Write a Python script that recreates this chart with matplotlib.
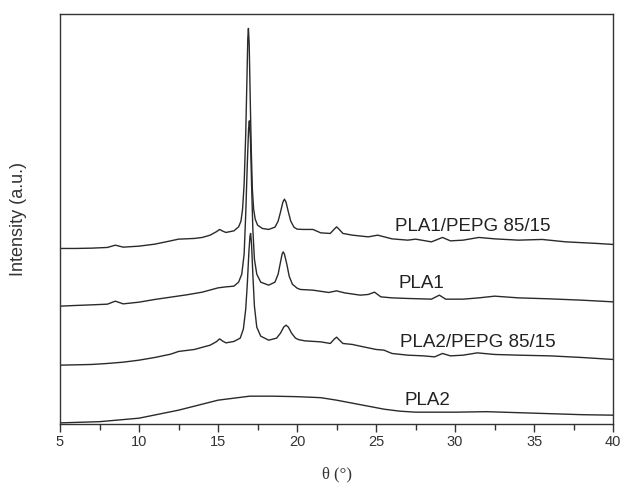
import numpy as np
import matplotlib
matplotlib.use("Agg")
import matplotlib.pyplot as plt
from matplotlib.ticker import MultipleLocator

# diffraction angle (deg) and intensity (a.u.)
theta_pla1_pepg = [5, 6, 7, 8, 8.5, 9, 10, 11, 12, 12.5, 13.5, 14, 14.5, 14.9, 15.1,
                   15.3, 15.5, 16.0, 16.3, 16.45, 16.55, 16.65, 16.75, 16.82, 16.88,
                   16.92, 16.97, 17.03, 17.1, 17.17, 17.25, 17.35, 17.5, 17.8, 18.2,
                   18.6, 18.8, 18.95, 19.1, 19.2, 19.3, 19.45, 19.6, 19.8, 20.0, 20.4,
                   21, 21.5, 22.1, 22.35, 22.5, 22.65, 22.9, 23.5, 24.5, 25.1, 26, 27,
                   27.5, 28.5, 29.2, 29.7, 30.5, 31.5, 32.5, 34, 35.5, 37, 39, 40]
int_pla1_pepg = [175.7, 175.7, 176, 176.7, 179, 177, 178, 180, 183.3, 185, 185.7,
                 186.7, 189, 192.5, 194.7, 193, 191.7, 193.3, 197.3, 203, 215, 240,
                 290, 340, 385, 395.7, 380, 330, 275, 235, 215, 205, 199, 195.7,
                 194.7, 197, 203, 212, 222, 225, 222, 212, 203, 197, 195, 194.7,
                 194.7, 191.3, 190.7, 195, 197.3, 195, 190.7, 189, 187.3, 189, 185.3,
                 184, 185, 182.3, 186.7, 183.3, 184, 186.7, 185.3, 184, 184.7, 182.3,
                 180.7, 179.7]

theta_pla1 = [5, 6, 7, 8, 8.5, 9, 10, 11, 12, 13, 14, 15, 15.5, 16.0, 16.3, 16.5,
              16.65, 16.75, 16.85, 16.93, 16.98, 17.05, 17.12, 17.2, 17.3, 17.45,
              17.7, 18.2, 18.6, 18.8, 18.95, 19.05, 19.12, 19.2, 19.35, 19.5, 19.7,
              20.0, 20.2, 21, 22, 22.5, 23, 24, 24.5, 24.9, 25.3, 26, 27, 28.5,
              29.0, 29.4, 30.5, 31.5, 32.5, 34, 36, 38, 40]
int_pla1 = [118, 118.7, 119.3, 120, 123, 120.3, 122, 124.7, 127, 129.3, 132, 136.3,
            137.3, 138, 142, 150, 170, 210, 260, 295, 303.3, 285, 240, 195, 165,
            150, 142, 139, 142, 150, 162, 170, 172.3, 170, 160, 148, 140, 136,
            134.7, 134, 131.7, 133.3, 131.3, 129, 129.7, 132, 127.3, 126.3, 125.7,
            125, 129, 125, 125, 126.3, 128, 126.3, 125.3, 124, 122.3]

theta_pla2_pepg = [5, 7, 8, 9, 10, 11, 12, 12.5, 13.5, 14.5, 14.9, 15.1, 15.3, 15.5,
                   16.0, 16.4, 16.6, 16.75, 16.85, 16.95, 17.02, 17.06, 17.12, 17.2,
                   17.3, 17.45, 17.7, 18.2, 18.7, 18.95, 19.15, 19.3, 19.45, 19.65,
                   19.9, 20.1, 20.5, 21.5, 22.1, 22.35, 22.5, 22.65, 22.9, 23.5, 24.2,
                   25, 25.5, 26, 27, 28, 28.7, 29.2, 29.7, 30.5, 31.4, 32.5, 34, 36,
                   38, 40]
int_pla2_pepg = [59, 59.7, 60.7, 62, 64, 66.7, 70, 72.7, 74.7, 79, 82.5, 85.3, 83,
                 81.3, 82.7, 86, 95, 115, 140, 172, 188, 190.7, 180, 150, 118, 97,
                 88, 84, 86, 91, 97, 99, 97, 91, 86, 84.5, 83.3, 82.3, 80.7, 85,
                 87, 84.5, 80.7, 79.7, 77.3, 74.7, 74, 70.7, 69, 68.3, 67.3, 70.7,
                 68.3, 69, 71.3, 69.7, 69, 68.3, 66.7, 64.7]

theta_pla2 = [5, 7.5, 10, 12.5, 14, 15, 16, 17, 18.5, 20, 21.5, 22.5, 23.5, 24.5,
              25.5, 26.5, 27.5, 30, 32, 34, 36, 38, 40]
int_pla2 = [1.3, 2.5, 6, 14, 20, 24, 26, 28, 28, 27.5, 26.5, 24, 21, 18, 15, 13, 12,
            12, 12.5, 11.5, 10.5, 9.5, 9]

names = ["PLA1/PEPG 85/15", "PLA1", "PLA2/PEPG 85/15", "PLA2"]

fig = plt.figure(figsize=(6.23, 4.87), dpi=100)
ax = fig.add_axes([0.0963, 0.129, 0.888, 0.842])

col = "#2a2a2a"
for th, it in [(theta_pla1_pepg, int_pla1_pepg), (theta_pla1, int_pla1),
               (theta_pla2_pepg, int_pla2_pepg), (theta_pla2, int_pla2)]:
    ax.plot(th, it, color=col, lw=1.0)

# curve labels
label_xy = [(26.2, 198), (26.4, 141), (26.5, 82), (26.8, 24)]
for name, (lx, ly) in zip(names, label_xy):
    ax.text(lx, ly, name, fontsize=13.5, color="#222222", va="center", ha="left",
            family="Liberation Sans")

ax.set_xlim(5, 40)
ax.set_ylim(0, 410)
ax.xaxis.set_major_locator(MultipleLocator(5))
ax.xaxis.set_minor_locator(MultipleLocator(2.5))
ax.set_yticks([])
ax.tick_params(axis="x", which="major", direction="out", length=6, width=1,
               colors="#333333", labelsize=10.5, pad=2)
ax.tick_params(axis="x", which="minor", direction="out", length=4, width=1,
               colors="#333333")
for lab in ax.get_xticklabels():
    lab.set_family("Liberation Sans")
for sp in ax.spines.values():
    sp.set_color("#333333")
    sp.set_linewidth(1.0)

ax.set_ylabel("Intensity (a.u.)", fontsize=13, color="#333333",
              family="Liberation Sans", labelpad=24)
ax.set_xlabel("θ (°)", fontsize=12, color="#333333", family="Liberation Serif",
              labelpad=12)

fig.savefig("out.png", dpi=100)
